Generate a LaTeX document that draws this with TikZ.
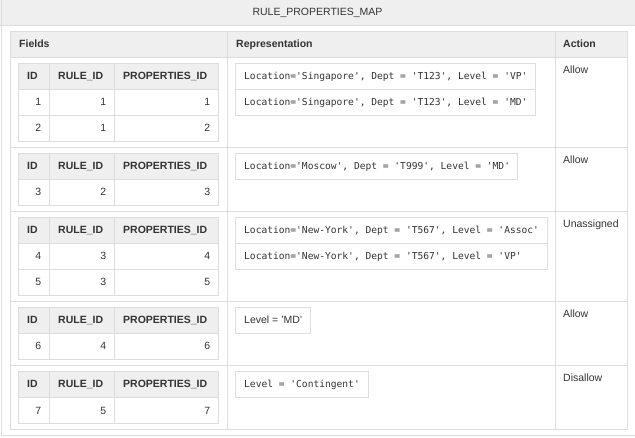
\documentclass[tikz,border=0pt]{standalone}
\usepackage{fontspec}
\setmainfont{Liberation Sans}
\newfontfamily\monof{DejaVu Sans Mono}
\definecolor{bordc}{HTML}{DDDDDD}
\definecolor{headc}{HTML}{EFEFEF}
\definecolor{txtc}{HTML}{333333}
\tikzset{
  grid/.style={draw=bordc, line width=1pt},
  txt/.style={inner sep=0pt, anchor=base west, text=txtc, font=\fontsize{10.5}{12}\selectfont},
  hdr/.style={txt, font=\fontsize{10.5}{12}\selectfont\bfseries},
  num/.style={txt, anchor=base east},
  code/.style={txt, font=\monof\fontsize{9.6}{12}\selectfont},
}
% #1 top, #2 name, #3 rows id/rule/prop
\newcommand\subtbl[3]{%
  \fill[headc] (18,#1) rectangle (218,{#1+26});
  \node[hdr] (#2-hid) at (27,{#1+17}) {ID};
  \node[hdr] (#2-hrule) at (58,{#1+17}) {RULE\_ID};
  \node[hdr] (#2-hprop) at (123,{#1+17}) {PROPERTIES\_ID};
  \foreach \i/\r/\p [count=\k] in {#3} {
    \draw[grid] (18.5,{#1+26*\k+0.5}) -- (218.5,{#1+26*\k+0.5});
    \node[num] (#2-id\k) at (41.5,{#1+26*\k+17}) {\i};
    \node[num] (#2-rule\k) at (106.5,{#1+26*\k+17}) {\r};
    \node[num] (#2-prop\k) at (210.5,{#1+26*\k+17}) {\p};
    \xdef\lastk{\k}
  }
  \draw[grid] (18.5,{#1+0.5}) rectangle (218.5,{#1+26*(\lastk+1)+0.5});
  \draw[grid] (49.5,{#1+0.5}) -- (49.5,{#1+26*(\lastk+1)+0.5});
  \draw[grid] (114.5,{#1+0.5}) -- (114.5,{#1+26*(\lastk+1)+0.5});
}
\begin{document}
\begin{tikzpicture}[x=1pt,y=-1pt]
\useasboundingbox (0,0) rectangle (635,438);
% title bar and outer frame
\fill[headc] (0,0) rectangle (635,25);
\draw[grid] (0,25.5) -- (635,25.5);
\draw[grid] (1.5,0) -- (1.5,435.5) -- (635,435.5);
\node[txt, anchor=base] (title) at (317.5,16) {RULE\_PROPERTIES\_MAP};
% main table
\fill[headc] (10,31) rectangle (627,57);
\draw[grid] (10.5,31.5) rectangle (627.5,429.5);
\foreach \yy in {57.5,147.5,211.5,301.5,365.5} {
  \draw[grid] (10.5,\yy) -- (627.5,\yy);
}
\draw[grid] (227.5,31.5) -- (227.5,429.5);
\draw[grid] (555.5,31.5) -- (555.5,429.5);
\node[hdr] (hfields) at (19,48) {Fields};
\node[hdr] (hrep) at (236,48) {Representation};
\node[hdr] (haction) at (563,48) {Action};
% sub tables
\subtbl{63}{ta}{1/1/1,2/1/2}
\subtbl{153}{tb}{3/2/3}
\subtbl{217}{tc}{4/3/4,5/3/5}
\subtbl{307}{td}{6/4/6}
\subtbl{371}{te}{7/5/7}
% representation boxes
\draw[grid] (235.5,63.5) rectangle (535.5,115.5);
\draw[grid] (235.5,89.5) -- (535.5,89.5);
\node[code] (ra1) at (244,80) {Location='Singapore', Dept = 'T123', Level = 'VP'};
\node[code] (ra2) at (244,106) {Location='Singapore', Dept = 'T123', Level = 'MD'};
\draw[grid] (235.5,153.5) rectangle (517.5,179.5);
\node[code] (rb1) at (244,170) {Location='Moscow', Dept = 'T999', Level = 'MD'};
\draw[grid] (235.5,217.5) rectangle (547.5,269.5);
\draw[grid] (235.5,243.5) -- (547.5,243.5);
\node[code] (rc1) at (244,234) {Location='New-York', Dept = 'T567', Level = 'Assoc'};
\node[code] (rc2) at (244,260) {Location='New-York', Dept = 'T567', Level = 'VP'};
\draw[grid] (235.5,307.5) rectangle (310.5,333.5);
\node[txt] (rd1) at (244,324) {Level = 'MD'};
\draw[grid] (235.5,371.5) rectangle (368.5,397.5);
\node[code] (re1) at (244,388) {Level = 'Contingent'};
% actions
\node[txt] (aa) at (563,74) {Allow};
\node[txt] (ab) at (563,164) {Allow};
\node[txt] (ac) at (563,228) {Unassigned};
\node[txt] (ad) at (563,318) {Allow};
\node[txt] (ae) at (563,382) {Disallow};
\end{tikzpicture}
\end{document}
